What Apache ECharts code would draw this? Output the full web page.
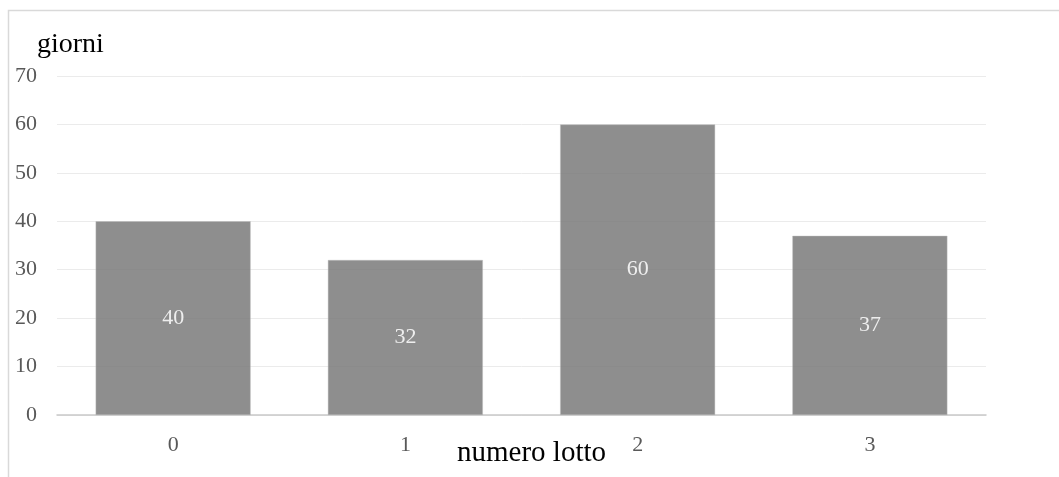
<!DOCTYPE html>
<html>
<head>
<meta charset="utf-8">
<script src="https://cdn.jsdelivr.net/npm/echarts@6/dist/echarts.min.js"></script>
<style>
  html, body { margin: 0; padding: 0; background: #fff; }
  #chart { width: 1059px; height: 477px; }
</style>
</head>
<body>
<div id="chart"></div>
<script>
// Lot numbers and days per lot
const categories = ['0', '1', '2', '3'];
const giorni = [40, 32, 60, 37];
const yTicks = { min: 0, max: 70, interval: 10 };

const serif = '"Times New Roman", "Liberation Serif", serif';

const chart = echarts.init(document.getElementById('chart'));
chart.setOption({
  animation: false,
  backgroundColor: '#ffffff',
  grid: { left: 57, right: 73, top: 76, bottom: 62 },
  xAxis: {
    type: 'category',
    data: categories,
    axisLine: { lineStyle: { color: '#c9c9c9', width: 1.5 } },
    axisTick: { show: false },
    axisLabel: { color: '#595959', fontFamily: serif, fontSize: 22, margin: 19 }
  },
  yAxis: {
    type: 'value',
    min: yTicks.min,
    max: yTicks.max,
    interval: yTicks.interval,
    axisLine: { show: false },
    axisTick: { show: false },
    splitLine: { lineStyle: { color: '#ebebeb', width: 1 } },
    axisLabel: { color: '#595959', fontFamily: serif, fontSize: 22, margin: 20 }
  },
  series: [{
    type: 'bar',
    data: giorni,
    barWidth: 155,
    itemStyle: { color: '#7a7a7a', opacity: 0.85, borderColor: '#bdbdbd', borderWidth: 0.5 },
    label: {
      show: true,
      position: 'inside',
      color: '#ffffff',
      fontFamily: serif,
      fontSize: 22
    }
  }],
  graphic: [
    {
      type: 'rect',
      silent: true,
      shape: { x: 8.5, y: 10.5, width: 1200, height: 600 },
      style: { fill: 'none', stroke: '#d9d9d9', lineWidth: 1.5 },
      z: -1
    },
    {
      type: 'text',
      left: 37,
      top: 31,
      style: { text: 'giorni', fill: '#000000', font: '28px ' + serif }
    },
    {
      type: 'text',
      left: 457,
      top: 439,
      style: { text: 'numero lotto', fill: '#000000', font: '29px ' + serif }
    }
  ]
});
</script>
</body>
</html>
